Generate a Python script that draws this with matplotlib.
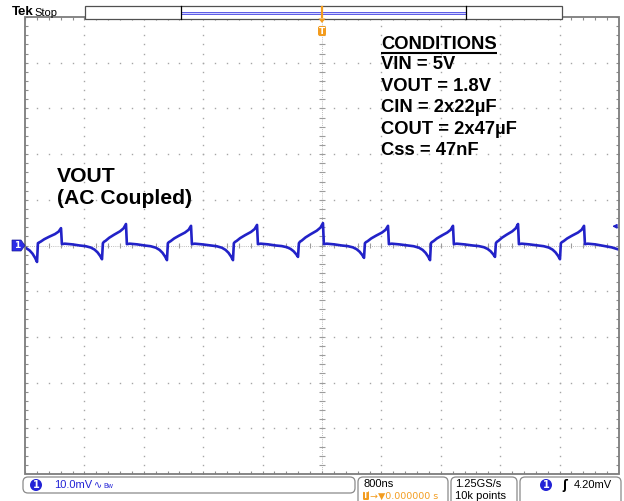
import matplotlib
matplotlib.use("Agg")
import matplotlib.pyplot as plt
from matplotlib.patches import Rectangle, FancyBboxPatch, Polygon, Circle
import numpy as np

# ---------------- data read from the screen ----------------
# time in microseconds (800 ns/div, 10 div), voltage in mV (10 mV/div, 10 div)
peak_t = [-3.515, -2.640, -1.764, -0.875, 0.013, 0.889, 1.764, 2.640, 3.529]
peak_mv = [3.8, 4.7, 4.3, 4.5, 4.9, 4.3, 4.3, 4.7, 4.3]
min_t = [-3.838, -2.963, -2.088, -1.199, -0.323, 0.566, 1.455, 2.330, 3.205]
min_mv = [-3.6, -3.0, -3.2, -3.2, -2.5, -2.7, -3.2, -2.5, -3.0]
# shape of one ripple cycle
dip_dt = [-0.30, -0.22, -0.15, -0.10, -0.06, -0.025, 0.0]
dip_frac = [0.0, 0.05, 0.15, 0.30, 0.50, 0.76, 1.0]
jump_dt, jump_mv = 0.012, 0.5
ramp_f = [0.08, 0.15, 0.30, 0.50, 0.75, 0.90, 1.0]
ramp_frac = [0.17, 0.22, 0.36, 0.50, 0.66, 0.80, 1.0]
fall_dt = [0.012, 0.05, 0.15]
fall_mv = [0.3, 0.4, 0.25]
tail_t = [3.80, 3.90, 4.0]
tail_mv = [-0.1, -0.4, -0.9]

cond_lines = ["VIN = 5V", "VOUT = 1.8V", "CIN = 2x22µF", "COUT = 2x47µF", "Css = 47nF"]

# ---------------- build the trace ----------------
t, v = [], []
for tm, vm, tp, vp in zip(min_t, min_mv, peak_t, peak_mv):
    for d, f in zip(dip_dt, dip_frac):
        t.append(tm + d); v.append(vm * f)
    t.append(tm + jump_dt); v.append(jump_mv)
    for f, fr in zip(ramp_f, ramp_frac):
        t.append(tm + (tp - tm) * f); v.append(vp * fr)
    for d, m in zip(fall_dt, fall_mv):
        t.append(tp + d); v.append(m)
t += tail_t; v += tail_mv

W, H = 624, 501
fig = plt.figure(figsize=(W / 100, H / 100), dpi=100, facecolor="white")
ax = fig.add_axes([25 / W, (H - 474) / H, 594 / W, 457 / H])
ax.set_xlim(-4, 4)
ax.set_ylim(-50, 50)
ax.axis("off")
ov = fig.add_axes([0, 0, 1, 1])
ov.set_xlim(0, W)
ov.set_ylim(H, 0)
ov.axis("off")
ov.set_zorder(3)
ov.patch.set_alpha(0)

# ---------------- graticule ----------------
minor_x = np.arange(-4, 4.0001, 0.16)
minor_y = np.arange(-50, 50.001, 2)
gc = "#a6a6a6"
for i in range(1, 10):
    if i == 5:
        continue
    x = -4 + 0.8 * i
    ax.plot(np.full_like(minor_y, x), minor_y, ls="none", marker="s", ms=1.0, mew=0, color=gc)
    y = -50 + 10 * i
    ax.plot(minor_x, np.full_like(minor_x, y), ls="none", marker="s", ms=1.0, mew=0, color=gc)
ax.plot([-4, 4], [0, 0], color="#bdbdbd", lw=0.7, ls=(0, (1, 1.2)))
ax.plot([0, 0], [-50, 50], color="#bdbdbd", lw=0.7, ls=(0, (1, 1.2)))
ax.vlines(minor_x, -0.65, 0.65, color="#9c9c9c", lw=0.8)
ax.hlines(minor_y, -0.045, 0.045, color="#9c9c9c", lw=0.8)
ax.vlines(minor_x, -50, -49.3, color="#8c8c8c", lw=0.8)
ax.vlines(minor_x, 49.3, 50, color="#8c8c8c", lw=0.8)
ax.hlines(minor_y, -4, -3.96, color="#8c8c8c", lw=0.8)
ax.hlines(minor_y, 3.96, 4, color="#8c8c8c", lw=0.8)

# ---------------- waveform ----------------
ax.plot(t, v, color="#2222c8", lw=1.9, zorder=5, solid_joinstyle="round")

# border
ov.add_patch(Rectangle((25, 17), 594, 457, fill=False, ec="#7c7c7c", lw=1.3))

# ---------------- annotations ----------------
FB = dict(family="Liberation Sans", fontweight="bold", color="black", va="center", ha="left")
tc = ov.text(381, 44, "CONDITIONS", fontsize=13.2, **FB)
for k, s in enumerate(cond_lines):
    ov.text(381, 64.5 + k * 21.6, s, fontsize=13.2, **FB)
ov.text(57, 176, "VOUT", fontsize=15.2, **FB)
ov.text(57, 199, "(AC Coupled)", fontsize=15.2, **FB)
fig.canvas.draw()
bb = tc.get_window_extent()
ov.plot([bb.x0, bb.x1], [53, 53], color="black", lw=1.5, solid_capstyle="butt")

# ---------------- top bar ----------------
ov.text(12, 11.5, "Tek", fontsize=9.5, family="Liberation Sans", fontweight="bold", va="center", ha="left")
ov.text(34, 12.5, "Stop", fontsize=8, family="Liberation Sans", va="center", ha="left")
ov.add_patch(Rectangle((85, 6), 477, 12.5, fc="white", ec="#505050", lw=0.9))
ov.add_patch(Rectangle((181, 11.5), 285, 2.8, fc="#d0d0ff", ec="#5a5ae6", lw=0.7))
ov.plot([181, 181], [6, 18.5], color="black", lw=0.9)
ov.plot([466, 466], [6, 18.5], color="black", lw=0.9)
orange = "#f39c1e"
ov.plot([322, 322], [7, 17], color=orange, lw=1.6)
ov.add_patch(Polygon([[318.5, 18.5], [325.5, 18.5], [322, 23]], closed=True, fc=orange, ec="none"))
ov.add_patch(FancyBboxPatch((318, 26), 8, 10, boxstyle="round,pad=0,rounding_size=2", fc=orange, ec="none"))
ov.text(322, 31.3, "T", fontsize=6.5, color="white", fontweight="bold", ha="center", va="center", family="DejaVu Sans")

# channel ground marker (left) and trigger level arrow (right)
ov.add_patch(Polygon([[12, 240], [21, 240], [25, 245.5], [21, 251], [12, 251]], closed=True, fc="#2d2de6", ec="#1a1a9a", lw=0.5))
ov.text(17, 245.6, "1", fontsize=6.5, color="white", ha="center", va="center", family="DejaVu Sans", fontweight="bold")
ax.annotate("", xy=(3.87, 4.2), xytext=(3.99, 4.2),
            arrowprops=dict(arrowstyle="-|>", color="#2222c8", lw=1.0, mutation_scale=6), zorder=6)

# ---------------- bottom status bar ----------------
blue = "#2323d6"
FS = dict(family="Liberation Sans", fontsize=8, va="center", ha="left")
ov.add_patch(FancyBboxPatch((23, 477), 332, 16, boxstyle="round,pad=0,rounding_size=5", fc="white", ec="#8a8a8a", lw=0.9))
ov.add_patch(Circle((36, 485), 6, fc=blue, ec="none"))
ov.text(36, 485.3, "1", color="white", fontsize=7, ha="center", va="center", family="DejaVu Sans", fontweight="bold")
ov.text(54, 485, "10.0mV", color=blue, **FS)
ov.text(94, 485, "∿", color=blue, family="DejaVu Sans", fontsize=7, va="center", ha="left")
ov.text(103, 486.5, "Bw", color=blue, family="Liberation Sans", fontsize=5, va="center", ha="left")

for x0, x1 in [(358, 448), (451, 517), (520, 621)]:
    ov.add_patch(FancyBboxPatch((x0, 477), x1 - x0, 40, boxstyle="round,pad=0,rounding_size=5", fc="white", ec="#8a8a8a", lw=0.9))
ov.text(363, 484, "800ns", color="black", **FS)
ov.add_patch(FancyBboxPatch((363, 491), 6, 9, boxstyle="round,pad=0,rounding_size=1.2", fc=orange, ec="none"))
ov.text(366, 495.7, "T", color="white", fontsize=5.5, ha="center", va="center", family="DejaVu Sans", fontweight="bold")
ov.text(370, 496, "→▼0.000000 s", color=orange, family="DejaVu Sans", fontsize=6.8, va="center", ha="left")
ov.text(455, 484, "1.25GS/s", color="black", **FS)
ov.text(455, 496, "10k points", color="black", **FS)
ov.add_patch(Circle((546, 485), 6, fc=blue, ec="none"))
ov.text(546, 485.3, "1", color="white", fontsize=7, ha="center", va="center", family="DejaVu Sans", fontweight="bold")
ov.text(565, 485, "ʃ", color="black", family="DejaVu Sans", fontsize=8.5, va="center", ha="center", fontweight="bold")
ov.text(612, 485, "4.20mV", color="black", family="Liberation Sans", fontsize=8, va="center", ha="right")

fig.savefig("out.png", dpi=100, facecolor="white")
